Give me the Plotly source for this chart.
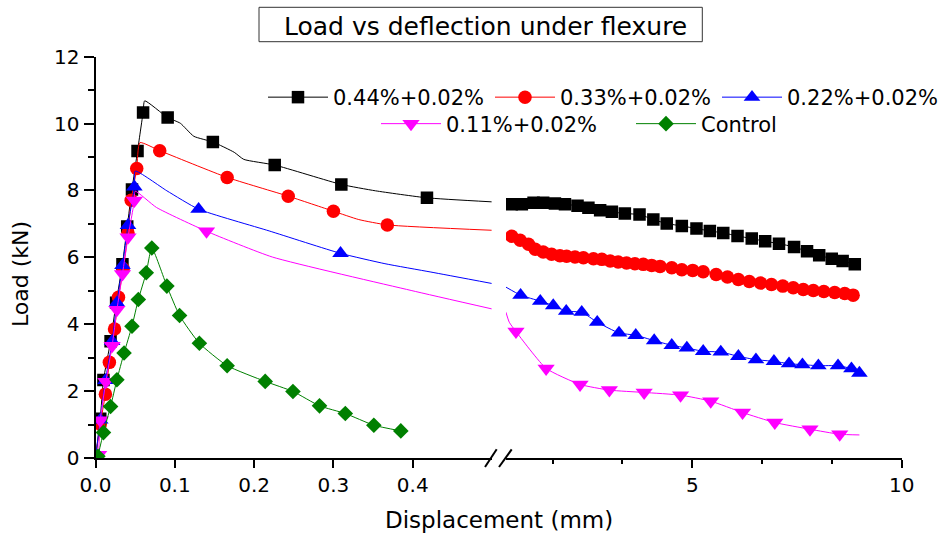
import plotly.graph_objects as go

W, H = 949, 540
FONT = "DejaVu Sans"

# ---------------- data ----------------
names = ["0.44%+0.02%", "0.33%+0.02%", "0.22%+0.02%", "0.11%+0.02%", "Control"]
colors = ["#000000", "#FF0000", "#0000FF", "#FF00FF", "#008000"]
symbols = ["square", "circle", "triangle-up", "triangle-down", "diamond"]
msizes = [12.5, 13.5, 14.5, 15, 12]

# left segment (0 - 0.5 mm): line vertices + indices that carry a marker
x044_L = [0.0, 0.006, 0.010, 0.019, 0.026, 0.034, 0.040, 0.046, 0.053, 0.060, 0.062,
          0.091, 0.107, 0.124, 0.148, 0.175, 0.187, 0.226, 0.310, 0.353, 0.418, 0.4995]
y044_L = [0.0, 1.17, 2.33, 3.49, 4.64, 5.79, 6.92, 8.03, 9.18, 10.33, 10.68,
          10.18, 10.01, 9.62, 9.45, 9.14, 8.93, 8.76, 8.18, 7.99, 7.78, 7.66]
m044_L = [1, 2, 3, 4, 5, 6, 7, 8, 9, 11, 14, 17, 18, 20]

x033_L = [0.0, 0.006, 0.0125, 0.0175, 0.024, 0.029, 0.035, 0.041, 0.045, 0.052, 0.056,
          0.081, 0.166, 0.243, 0.300, 0.332, 0.368, 0.4995]
y033_L = [0.0, 1.01, 1.91, 2.86, 3.86, 4.81, 5.66, 6.73, 7.71, 8.66, 9.43,
          9.19, 8.39, 7.83, 7.38, 7.13, 6.97, 6.81]
m033_L = [1, 2, 3, 4, 5, 6, 7, 8, 9, 11, 12, 13, 14, 16]

x022_L = [0.0, 0.006, 0.0125, 0.021, 0.027, 0.034, 0.041, 0.049, 0.050, 0.090, 0.130,
          0.219, 0.309, 0.365, 0.423, 0.4995]
y022_L = [0.0, 1.14, 2.32, 3.49, 4.64, 5.76, 6.96, 8.11, 8.58, 7.99, 7.44,
          6.79, 6.12, 5.81, 5.56, 5.22]
m022_L = [1, 2, 3, 4, 5, 6, 7, 10, 12]

x011_L = [0.004, 0.006, 0.013, 0.021, 0.027, 0.034, 0.041, 0.049, 0.050, 0.077, 0.140,
          0.223, 0.398, 0.4995]
y011_L = [0.10, 1.13, 2.28, 3.36, 4.43, 5.50, 6.60, 7.70, 7.98, 7.49, 6.78,
          6.01, 5.01, 4.46]
m011_L = [0, 1, 2, 3, 4, 5, 6, 7, 10]

xctl_L = [0.003, 0.010, 0.019, 0.027, 0.036, 0.046, 0.054, 0.064, 0.071, 0.090, 0.106,
          0.131, 0.166, 0.214, 0.249, 0.2825, 0.315, 0.351, 0.385]
yctl_L = [0.05, 0.76, 1.54, 2.34, 3.14, 3.94, 4.74, 5.54, 6.28, 5.14, 4.26,
          3.43, 2.76, 2.29, 1.99, 1.56, 1.33, 0.98, 0.81]
mctl_L = list(range(len(xctl_L)))

# right segment (0.55 - 10 mm)
x044_R = [0.69, 0.93, 1.21, 1.44, 1.72, 1.96, 2.26, 2.52, 2.80, 3.08, 3.39, 3.74, 4.07, 4.39,
          4.75, 5.10, 5.42, 5.74, 6.08, 6.42, 6.74, 7.07, 7.43, 7.74, 8.03, 8.33, 8.59, 8.88]
y044_R = [7.59, 7.59, 7.63, 7.63, 7.61, 7.59, 7.54, 7.48, 7.41, 7.36, 7.31, 7.28, 7.13, 7.01,
          6.94, 6.86, 6.79, 6.73, 6.64, 6.56, 6.48, 6.41, 6.31, 6.18, 6.06, 5.96, 5.89, 5.79]
m044_R = list(range(len(x044_R)))

x033_R = [0.69, 0.89, 1.09, 1.25, 1.44, 1.64, 1.84, 2.00, 2.20, 2.40, 2.64, 2.84, 3.04, 3.23,
          3.43, 3.63, 3.83, 4.03, 4.23, 4.51, 4.75, 5.01, 5.26, 5.57, 5.84, 6.10, 6.36, 6.63,
          6.89, 7.16, 7.41, 7.65, 7.89, 8.14, 8.40, 8.64, 8.84]
y033_R = [6.63, 6.51, 6.39, 6.24, 6.16, 6.09, 6.05, 6.03, 6.01, 5.99, 5.96, 5.94, 5.89, 5.86,
          5.83, 5.81, 5.79, 5.76, 5.73, 5.69, 5.63, 5.61, 5.57, 5.49, 5.41, 5.34, 5.28, 5.23,
          5.19, 5.14, 5.09, 5.04, 5.01, 4.98, 4.95, 4.92, 4.87]
m033_R = list(range(len(x033_R)))

x022_R = [0.55, 0.90, 1.37, 1.68, 1.99, 2.36, 2.73, 3.25, 3.65, 4.09, 4.51, 4.87, 5.26, 5.68,
          6.10, 6.52, 6.95, 7.31, 7.63, 8.01, 8.48, 8.80, 8.99]
y022_R = [5.11, 4.87, 4.69, 4.56, 4.39, 4.36, 4.06, 3.74, 3.67, 3.51, 3.37, 3.29, 3.19, 3.17,
          3.04, 2.94, 2.89, 2.82, 2.79, 2.76, 2.76, 2.67, 2.54]
m022_R = list(range(1, len(x022_R)))

x011_R = [0.55, 0.63, 0.79, 1.51, 2.32, 3.02, 3.85, 4.72, 5.44, 6.20, 6.97, 7.81, 8.52, 8.99]
y011_R = [4.36, 4.06, 3.78, 2.68, 2.20, 2.03, 1.96, 1.88, 1.70, 1.36, 1.06, 0.86, 0.71, 0.69]
m011_R = list(range(2, 13))

left_x = [x044_L, x033_L, x022_L, x011_L, xctl_L]
left_y = [y044_L, y033_L, y022_L, y011_L, yctl_L]
left_m = [m044_L, m033_L, m022_L, m011_L, mctl_L]
right_x = [x044_R, x033_R, x022_R, x011_R, None]
right_y = [y044_R, y033_R, y022_R, y011_R, None]
right_m = [m044_R, m033_R, m022_R, m011_R, None]

x_ticks_L = [0.0, 0.1, 0.2, 0.3, 0.4]
x_ticktext_L = ["0.0", "0.1", "0.2", "0.3", "0.4"]
x_ticks_R = [5, 10]
x_minor_R = [5 / 3, 10 / 3, 20 / 3, 25 / 3]

# ---------------- figure ----------------
fig = go.Figure()


def add_segment(xs, ys, mk, color, symbol, size, xa):
    fig.add_trace(go.Scatter(
        x=xs, y=ys, mode="lines", xaxis=xa, yaxis="y",
        line=dict(color=color, width=1, shape="spline", smoothing=0.5),
        showlegend=False, hoverinfo="skip"))
    fig.add_trace(go.Scatter(
        x=[xs[i] for i in mk], y=[ys[i] for i in mk], mode="markers",
        xaxis=xa, yaxis="y",
        marker=dict(color=color, symbol=symbol, size=size, line=dict(width=0)),
        showlegend=False, hoverinfo="skip"))


for k in range(5):
    add_segment(left_x[k], left_y[k], left_m[k], colors[k], symbols[k], msizes[k], "x")
    if right_x[k] is not None:
        add_segment(right_x[k], right_y[k], right_m[k], colors[k], symbols[k], msizes[k], "x2")

# legend entries
for k in range(5):
    fig.add_trace(go.Scatter(
        x=[None], y=[None], mode="lines+markers", name=names[k],
        line=dict(color=colors[k], width=1),
        marker=dict(color=colors[k], symbol=symbols[k], size=msizes[k], line=dict(width=0)),
        legend="legend" if k < 3 else "legend2"))

axis_common = dict(
    showline=True, linewidth=2, linecolor="black", showgrid=False, zeroline=False,
    ticks="outside", tickwidth=2, tickcolor="black", automargin=False,
    tickfont=dict(family=FONT, size=20, color="black"),
)

fig.update_layout(
    width=W, height=H,
    margin=dict(l=0, r=0, t=0, b=0),
    paper_bgcolor="white", plot_bgcolor="white",
    xaxis=dict(domain=[95.5 / W, 492 / W], range=[0, 0.5], anchor="y",
               tickvals=x_ticks_L, ticktext=x_ticktext_L, ticklen=8, **axis_common),
    xaxis2=dict(domain=[506 / W, 901.7 / W], range=[0.552, 10], anchor="y",
                tickvals=x_ticks_R, ticklen=8,
                minor=dict(tickvals=x_minor_R, ticklen=4, tickwidth=2, tickcolor="black",
                           ticks="outside"),
                **axis_common),
    yaxis=dict(domain=[(H - 458) / H, (H - 56.7) / H], range=[0, 12], anchor="x",
               dtick=2, ticklen=10,
               minor=dict(dtick=1, ticklen=6, tickwidth=2, tickcolor="black", ticks="outside"),
               **axis_common),
    legend=dict(orientation="h", x=263 / W, xanchor="left", y=1 - 97.5 / H, yanchor="middle",
                itemwidth=60, entrywidth=152, bgcolor="rgba(0,0,0,0)",
                font=dict(family=FONT, size=21, color="black")),
    legend2=dict(orientation="h", x=376 / W, xanchor="left", y=1 - 124 / H, yanchor="middle",
                 itemwidth=60, entrywidth=180, bgcolor="rgba(0,0,0,0)",
                 font=dict(family=FONT, size=21, color="black")),
    shapes=[
        dict(type="rect", xref="paper", yref="paper",
             x0=259 / W, x1=702.3 / W, y0=1 - 41.7 / H, y1=1 - 7.3 / H,
             line=dict(color="#333333", width=1)),
        dict(type="line", xref="paper", yref="paper",
             x0=485 / W, y0=1 - 467 / H, x1=496.7 / W, y1=1 - 449.3 / H,
             line=dict(color="black", width=2)),
        dict(type="line", xref="paper", yref="paper",
             x0=499 / W, y0=1 - 467 / H, x1=511.7 / W, y1=1 - 449.3 / H,
             line=dict(color="black", width=2)),
    ],
    annotations=[
        dict(text="Load vs deflection under flexure", xref="paper", yref="paper",
             x=486 / W, y=1 - 26 / H, xanchor="center", yanchor="middle", showarrow=False,
             font=dict(family=FONT, size=25, color="black")),
        dict(text="Displacement (mm)", xref="paper", yref="paper",
             x=498.5 / W, y=1 - 520 / H, xanchor="center", yanchor="middle", showarrow=False,
             font=dict(family=FONT, size=23, color="black")),
        dict(text="Load (kN)", xref="paper", yref="paper", textangle=-90,
             x=20 / W, y=1 - 274 / H, xanchor="center", yanchor="middle", showarrow=False,
             font=dict(family=FONT, size=22, color="black")),
    ],
)

fig.write_html("out.html")
